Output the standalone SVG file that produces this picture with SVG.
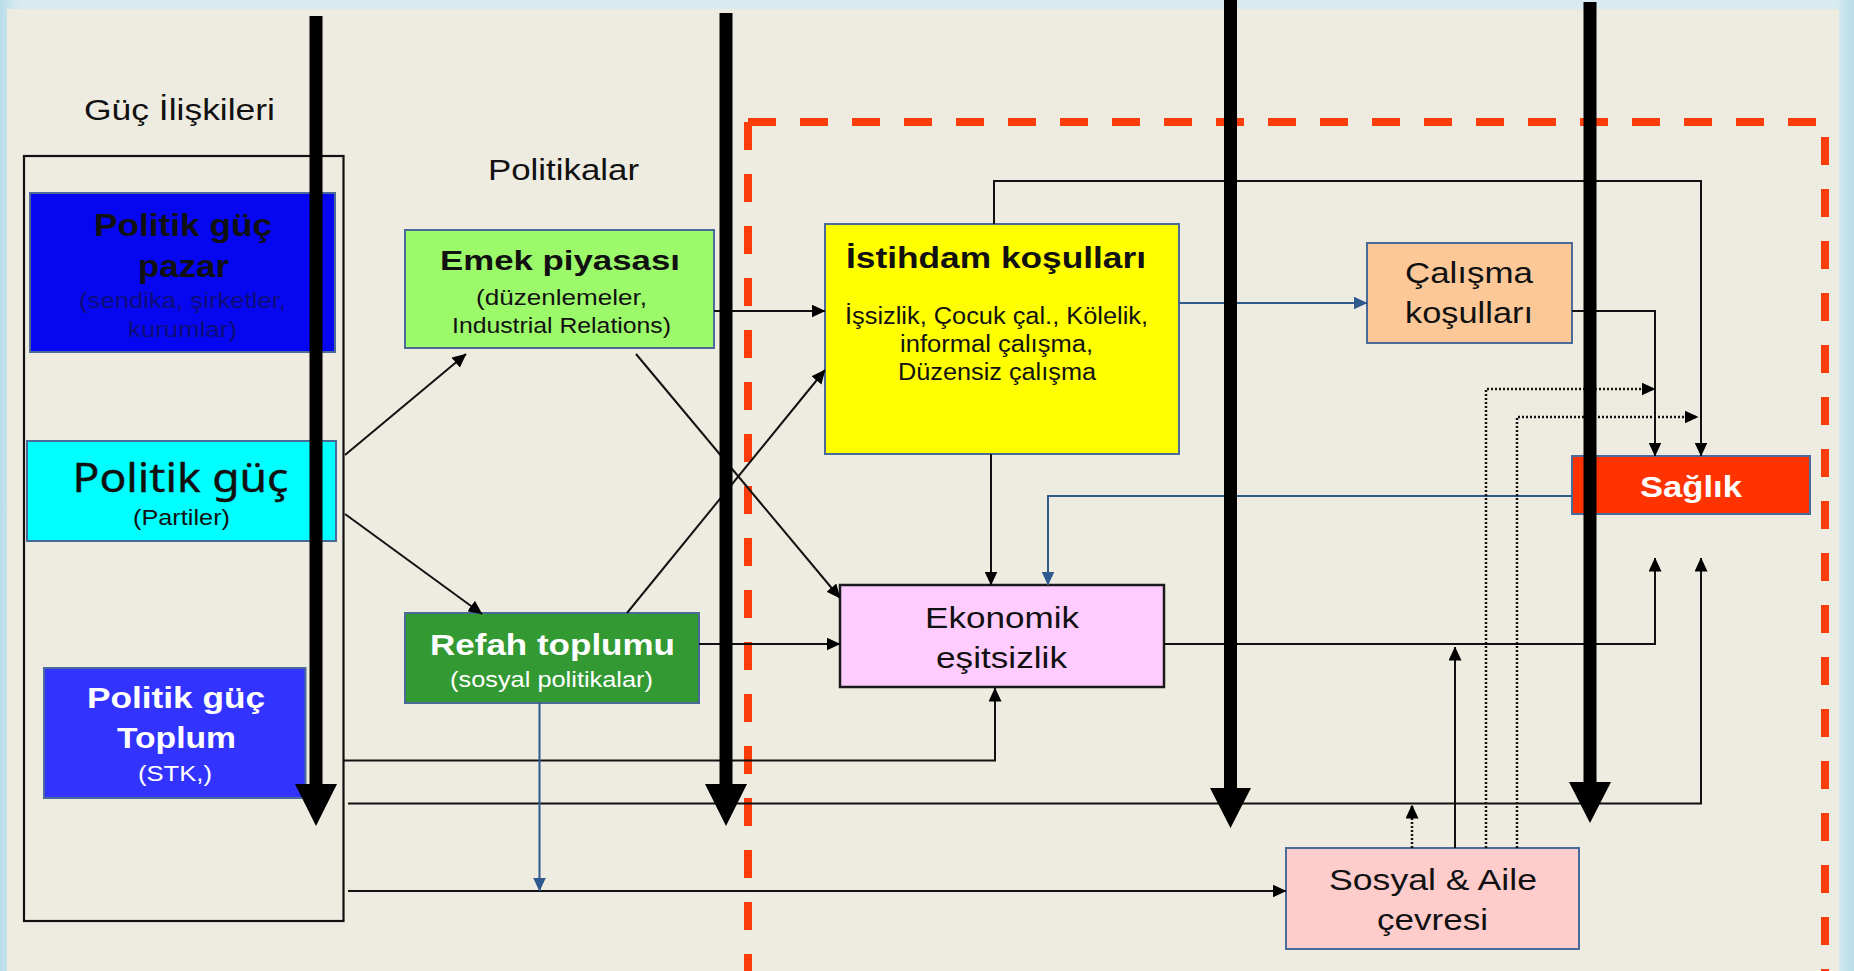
<svg xmlns="http://www.w3.org/2000/svg" width="1854" height="971" viewBox="0 0 1854 971">
<style>
.t{font-family:"Liberation Sans",Arial,sans-serif;text-anchor:middle;fill:#111}
.b{font-weight:bold}
.w{fill:#fff}
.box{stroke:#4a6a9a;stroke-width:2}
.ln{fill:none;stroke:#111;stroke-width:2}
.bl{fill:none;stroke:#2f5a8e;stroke-width:2}
.dt{fill:none;stroke:#111;stroke-width:2.5;stroke-dasharray:2 2}
.thick{fill:#000}
</style>
<defs>
<marker id="ah" viewBox="0 0 14 13" refX="13.5" refY="6.5" markerWidth="14" markerHeight="13" markerUnits="userSpaceOnUse" orient="auto"><path d="M0,0 L14,6.5 L0,13 z" fill="#000"/></marker>
<marker id="ahb" viewBox="0 0 14 13" refX="13.5" refY="6.5" markerWidth="14" markerHeight="13" markerUnits="userSpaceOnUse" orient="auto"><path d="M0,0 L14,6.5 L0,13 z" fill="#2f5a8e"/></marker>
<linearGradient id="edge" x1="0" y1="0" x2="1" y2="0"><stop offset="0" stop-color="#b9dde8"/><stop offset="0.01" stop-color="#d7ebf0"/><stop offset="0.99" stop-color="#d7ebf0"/><stop offset="1" stop-color="#b9dde8"/></linearGradient>
</defs>
<rect x="0" y="0" width="1854" height="971" fill="url(#edge)"/>
<rect x="7" y="9" width="1832" height="970" fill="#eeebe1"/>

<g id="red-frame" fill="none" stroke="#fb3d0b" stroke-width="8" stroke-dasharray="28 24">
<path d="M748,122 H1825 V990"/>
<path d="M748,122 V990"/>
</g>

<text class="t" x="179.5" y="120" font-size="30" textLength="191" lengthAdjust="spacingAndGlyphs">Güç İlişkileri</text>
<text class="t" x="563.5" y="180" font-size="30" textLength="151" lengthAdjust="spacingAndGlyphs">Politikalar</text>

<g id="power-frame"><rect x="24" y="156" width="319.5" height="765" fill="none" stroke="#111" stroke-width="2.2"/></g>

<g id="n-pazar">
<rect class="box" x="30" y="193" width="305" height="159" fill="#0606f0"/>
<text class="t b" x="183" y="236" font-size="31" textLength="178" lengthAdjust="spacingAndGlyphs">Politik güç</text>
<text class="t b" x="183.5" y="277" font-size="31" textLength="91" lengthAdjust="spacingAndGlyphs">pazar</text>
<text class="t" x="182.5" y="308" font-size="22" style="fill:#0d0d78" textLength="207" lengthAdjust="spacingAndGlyphs">(sendika, şirketler,</text>
<text class="t" x="182.5" y="337" font-size="22" style="fill:#0d0d78" textLength="109" lengthAdjust="spacingAndGlyphs">kurumlar)</text>
</g>

<g id="n-partiler">
<rect class="box" x="27" y="441" width="309" height="100" fill="#00ffff"/>
<text class="t" x="180.5" y="492" font-size="40" style="font-family:'Noto Sans',sans-serif;stroke:#111;stroke-width:0.4" textLength="216" lengthAdjust="spacingAndGlyphs">Politik güç</text>
<text class="t" x="181.5" y="525" font-size="22" textLength="97" lengthAdjust="spacingAndGlyphs">(Partiler)</text>
</g>

<g id="n-toplum">
<rect class="box" x="44" y="668" width="261.5" height="130" fill="#3333ff"/>
<text class="t b w" x="176" y="708" font-size="30" textLength="178" lengthAdjust="spacingAndGlyphs">Politik güç</text>
<text class="t b w" x="176.5" y="748" font-size="30" textLength="119" lengthAdjust="spacingAndGlyphs">Toplum</text>
<text class="t w" x="175" y="781" font-size="22" textLength="74" lengthAdjust="spacingAndGlyphs">(STK,)</text>
</g>

<g id="n-emek">
<rect class="box" x="405" y="230" width="309" height="118" fill="#9cf96a"/>
<text class="t b" x="560" y="270" font-size="28" textLength="240" lengthAdjust="spacingAndGlyphs">Emek piyasası</text>
<text class="t" x="561.5" y="305" font-size="22" textLength="171" lengthAdjust="spacingAndGlyphs">(düzenlemeler,</text>
<text class="t" x="561.5" y="333" font-size="22" textLength="219" lengthAdjust="spacingAndGlyphs">Industrial Relations)</text>
</g>

<g id="n-refah">
<rect class="box" x="405" y="613" width="294" height="90" fill="#339933"/>
<text class="t b w" x="552.5" y="655" font-size="30" textLength="245" lengthAdjust="spacingAndGlyphs">Refah toplumu</text>
<text class="t w" x="551.5" y="687" font-size="22" textLength="203" lengthAdjust="spacingAndGlyphs">(sosyal politikalar)</text>
</g>

<g id="n-istihdam">
<rect class="box" x="825" y="224" width="354" height="230" fill="#ffff00"/>
<text class="t b" x="996" y="268" font-size="29" textLength="300" lengthAdjust="spacingAndGlyphs">İstihdam koşulları</text>
<text class="t" x="996.5" y="324" font-size="23" textLength="303" lengthAdjust="spacingAndGlyphs">İşsizlik, Çocuk çal., Kölelik,</text>
<text class="t" x="996.5" y="352" font-size="23" textLength="193" lengthAdjust="spacingAndGlyphs">informal çalışma,</text>
<text class="t" x="997" y="380" font-size="23" textLength="198" lengthAdjust="spacingAndGlyphs">Düzensiz çalışma</text>
</g>

<g id="n-calisma">
<rect class="box" x="1367" y="243" width="205" height="100" fill="#fcc897"/>
<text class="t" x="1469" y="283" font-size="30" textLength="128" lengthAdjust="spacingAndGlyphs">Çalışma</text>
<text class="t" x="1469" y="323" font-size="30" textLength="128" lengthAdjust="spacingAndGlyphs">koşulları</text>
</g>

<g id="n-saglik">
<rect class="box" x="1572" y="456" width="238" height="58" fill="#ff3300"/>
<text class="t b w" x="1691" y="497" font-size="30" textLength="102" lengthAdjust="spacingAndGlyphs">Sağlık</text>
</g>

<g id="n-ekonomik">
<rect x="840" y="585" width="324" height="102" fill="#ffccff" stroke="#1a1a1a" stroke-width="2.5"/>
<text class="t" x="1002" y="628" font-size="30" textLength="154" lengthAdjust="spacingAndGlyphs">Ekonomik</text>
<text class="t" x="1001.5" y="668" font-size="30" textLength="131" lengthAdjust="spacingAndGlyphs">eşitsizlik</text>
</g>

<g id="n-sosyal">
<rect class="box" x="1286" y="848" width="293" height="101" fill="#ffcccc"/>
<text class="t" x="1433" y="890" font-size="30" textLength="208" lengthAdjust="spacingAndGlyphs">Sosyal &amp; Aile</text>
<text class="t" x="1432.5" y="930" font-size="30" textLength="111" lengthAdjust="spacingAndGlyphs">çevresi</text>
</g>

<g id="connectors">
<path class="ln" d="M345,455 L466,354" marker-end="url(#ah)"/>
<path class="ln" d="M345,514 L482,614" marker-end="url(#ah)"/>
<path class="ln" d="M636,354 L840,598" marker-end="url(#ah)"/>
<path class="ln" d="M627,613 L825,370" marker-end="url(#ah)"/>
<path class="ln" d="M714,311 H825" marker-end="url(#ah)"/>
<path class="ln" d="M699,644 H840" marker-end="url(#ah)"/>
<path class="ln" d="M991,454 V585" marker-end="url(#ah)"/>
<path class="bl" d="M1572,496 H1048 V585" marker-end="url(#ahb)"/>
<path class="ln" d="M994,224 V181 H1701 V456" marker-end="url(#ah)"/>
<path class="bl" d="M1179,303 H1367" marker-end="url(#ahb)"/>
<path class="ln" d="M1572,311 H1655 V456" marker-end="url(#ah)"/>
<path class="dt" d="M1486,848 V389 H1655" marker-end="url(#ah)"/>
<path class="dt" d="M1517,848 V417 H1698" marker-end="url(#ah)"/>
<path class="ln" d="M1164,644 H1655 V558" marker-end="url(#ah)"/>
<path class="ln" d="M344,760.5 H995 V688" marker-end="url(#ah)"/>
<path class="ln" d="M348,803.5 H1701 V558" marker-end="url(#ah)"/>
<path class="ln" d="M348,891 H1286" marker-end="url(#ah)"/>
<path class="bl" d="M539.5,703 V891" marker-end="url(#ahb)"/>
<path class="dt" d="M1412,848 V805" marker-end="url(#ah)"/>
<path class="ln" d="M1455,848 V647" marker-end="url(#ah)"/>
</g>

<g id="thick-arrows">
<path class="thick" d="M309.5,16 H322.5 V784 H337 L316,826 L295,784 H309.5 Z"/>
<path class="thick" d="M719.5,13 H732.5 V784 H747 L726,826 L705,784 H719.5 Z"/>
<path class="thick" d="M1224,0 H1237 V788 H1251 L1230.5,828 L1210,788 H1224 Z"/>
<path class="thick" d="M1583.5,2 H1596.5 V782 H1611 L1590,823 L1569,782 H1583.5 Z"/>
</g>
</svg>
